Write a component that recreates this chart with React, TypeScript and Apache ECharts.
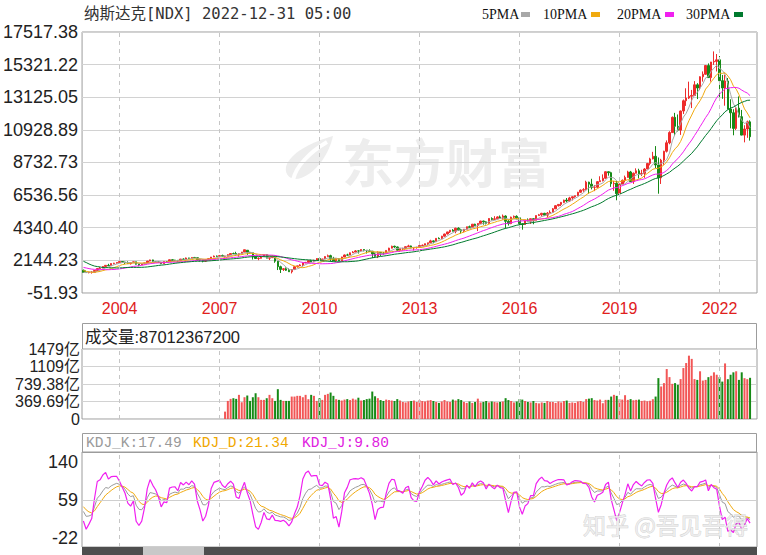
import React, { useEffect, useRef } from 'react';
import * as echarts from 'echarts';

// ---------- categories (monthly, Dec 2002 .. Dec 2022 + 2 empty slots) ----------
const categories: string[] = [];
for (let i = 0; i < 243; i++) {
  const m = 11 + i;
  const y = 2002 + Math.floor(m / 12);
  const mm = (m % 12) + 1;
  categories.push(`${y}-${String(mm).padStart(2, '0')}`);
}
const yearMarks = ['2004-01', '2007-01', '2010-01', '2013-01', '2016-01', '2019-01', '2022-01'];

// ---------- prices ----------
const priorCloses = [
  3766.99, 4206.35, 3672.82, 3369.63, 2597.93, 2470.52,
  2772.73, 2151.83, 1840.26, 2116.24, 2110.49, 2160.54, 2027.13, 1805.43, 1498.8, 1690.2, 1930.58, 1950.4,
  1934.03, 1731.49, 1845.35, 1688.23, 1615.73, 1463.21, 1328.26, 1314.85, 1172.06, 1329.75, 1478.78,
];

const opens = [
  1479,
  1336, 1321, 1338, 1341, 1464, 1596, 1623, 1735, 1810, 1787, 1932, 1960,
  2003, 2066, 2030, 1994, 1920, 1987, 2048, 1887, 1838, 1897, 1975, 2097,
  2175, 2062, 2052, 1999, 1922, 2068, 2057, 2185, 2152, 2152, 2120, 2233,
  2205, 2306, 2281, 2340, 2323, 2179, 2172, 2091, 2184, 2258, 2367, 2432,
  2415, 2464, 2416, 2422, 2525, 2605, 2603, 2546, 2596, 2702, 2825, 2661,
  2653, 2390, 2271, 2279, 2413, 2523, 2293, 2326, 2368, 2092, 1721, 1536,
  1577, 1476, 1378, 1529, 1717, 1774, 1835, 1979, 2009, 2122, 2045, 2145,
  2269, 2147, 2238, 2398, 2461, 2257, 2109, 2255, 2114, 2369, 2507, 2498,
  2653, 2700, 2782, 2781, 2874, 2835, 2774, 2756, 2579, 2415, 2684, 2620,
  2605, 2814, 2967, 3092, 3046, 2827, 2935, 2940, 3067, 3116, 2977, 3010,
  3020, 3142, 3160, 3268, 3329, 3456, 3403, 3626, 3590, 3771, 3920, 4060,
  4177, 4104, 4308, 4199, 4115, 4243, 4408, 4370, 4580, 4493, 4631, 4792,
  4736, 4635, 4964, 4901, 4941, 5070, 4987, 5128, 4777, 4620, 5054, 5109,
  5007, 4614, 4558, 4870, 4775, 4948, 4843, 5162, 5213, 5312, 5189, 5324,
  5383, 5615, 5825, 5912, 6048, 6199, 6140, 6348, 6429, 6496, 6728, 6874,
  6903, 7411, 7273, 7063, 7066, 7442, 7510, 7672, 8110, 8046, 7306, 7331,
  6635, 7282, 7533, 7729, 8095, 7453, 8006, 8175, 7963, 7999, 8292, 8665,
  8973, 9151, 8567, 7700, 8890, 9490, 10059, 10745, 11775, 11168, 10912, 12199,
  12888, 13071, 13192, 13247, 13963, 13749, 14504, 14673, 15259, 14449, 15498, 15538,
  15645, 14240, 13751, 14221, 12335, 12081, 11029, 12391, 11816, 10576, 10988, 11468,
];

const highs = [
  1521,
  1467, 1373, 1426, 1480, 1601, 1702, 1754, 1812, 1913, 1941, 1976, 2009,
  2153, 2100, 2054, 2080, 2000, 2061, 2050, 1892, 1930, 1978, 2106, 2191,
  2191, 2096, 2084, 2007, 2085, 2104, 2197, 2219, 2179, 2154, 2238, 2278,
  2333, 2316, 2346, 2375, 2354, 2200, 2185, 2190, 2270, 2375, 2469, 2470,
  2509, 2531, 2458, 2559, 2626, 2667, 2724, 2620, 2714, 2861, 2830, 2724,
  2661, 2420, 2347, 2425, 2551, 2550, 2340, 2473, 2395, 2104, 1786, 1623,
  1667, 1602, 1552, 1754, 1775, 1884, 1984, 2040, 2150, 2190, 2188, 2295,
  2326, 2245, 2424, 2535, 2524, 2381, 2303, 2300, 2390, 2541, 2592, 2672,
  2766, 2840, 2800, 2888, 2887, 2840, 2887, 2780, 2673, 2754, 2709, 2713,
  2815, 2993, 3134, 3134, 3076, 2940, 2994, 3085, 3197, 3139, 3020, 3060,
  3154, 3213, 3270, 3330, 3532, 3487, 3626, 3694, 3798, 3941, 4069, 4177,
  4246, 4342, 4371, 4273, 4247, 4410, 4485, 4580, 4610, 4641, 4810, 4815,
  4777, 4975, 5042, 5120, 5111, 5164, 5232, 5176, 4893, 5086, 5163, 5176,
  5007, 4633, 4870, 4969, 4958, 4980, 5166, 5272, 5343, 5343, 5400, 5512,
  5670, 5868, 5929, 6075, 6230, 6342, 6423, 6445, 6500, 6759, 6914, 7004,
  7506, 7441, 7637, 7209, 7486, 7806, 7934, 8133, 8133, 8108, 7486, 7487,
  7350, 7591, 7850, 8176, 8165, 8059, 8340, 8311, 8243, 8352, 8705, 9052,
  9451, 9838, 9071, 8980, 9523, 10221, 10839, 11829, 12074, 11965, 12226, 12973,
  13728, 14175, 13620, 14211, 14073, 14535, 14864, 15289, 15404, 15504, 16212, 16034,
  15901, 14628, 14647, 14422, 12988, 12319, 12429, 13181, 12271, 11240, 11553, 11571,
];

const lows = [
  1327,
  1313, 1271, 1253, 1336, 1458, 1580, 1616, 1676, 1780, 1786, 1881, 1921,
  1999, 2003, 1897, 1917, 1864, 1968, 1865, 1750, 1836, 1893, 1975, 2079,
  2034, 2030, 1966, 1890, 1921, 2048, 2052, 2134, 2091, 2025, 2118, 2196,
  2189, 2240, 2260, 2303, 2140, 2065, 2012, 2040, 2150, 2245, 2363, 2395,
  2397, 2400, 2332, 2420, 2504, 2561, 2546, 2386, 2540, 2692, 2514, 2587,
  2202, 2245, 2155, 2266, 2399, 2290, 2167, 2308, 1983, 1493, 1295, 1429,
  1432, 1377, 1265, 1490, 1656, 1770, 1727, 1960, 1979, 2040, 2024, 2145,
  2138, 2100, 2238, 2395, 2061, 2105, 2061, 2100, 2113, 2367, 2474, 2498,
  2651, 2700, 2603, 2735, 2753, 2606, 2739, 2298, 2393, 2298, 2441, 2519,
  2600, 2803, 2949, 2987, 2786, 2726, 2813, 2920, 3039, 2964, 2810, 2930,
  3020, 3105, 3154, 3154, 3300, 3295, 3400, 3587, 3588, 3740, 3886, 3984,
  4094, 3968, 4135, 3947, 4035, 4221, 4351, 4322, 4466, 4117, 4624, 4547,
  4563, 4607, 4837, 4857, 4919, 4987, 4889, 4292, 4487, 4580, 4996, 4899,
  4313, 4210, 4534, 4770, 4596, 4575, 4842, 5154, 5100, 5176, 5034, 5322,
  5380, 5605, 5769, 5805, 5997, 6045, 6090, 6177, 6362, 6480, 6690, 6760,
  6900, 6630, 6923, 6805, 7015, 7440, 7460, 7640, 7845, 7093, 6830, 6190,
  6457, 7273, 7390, 7720, 7443, 7292, 8000, 7662, 7819, 7700, 8291, 8540,
  8944, 8355, 6632, 7288, 8575, 9404, 9960, 10745, 10520, 10822, 10592, 12000,
  12543, 13004, 12397, 13247, 13003, 13601, 14178, 14630, 14437, 14181, 15302, 14861,
  13095, 13021, 12555, 12312, 11035, 10565, 10923, 11764, 10565, 10089, 10394, 10207,
];

const closes = [
  1335.51,
  1320.91, 1337.52, 1341.17, 1464.31, 1595.91, 1622.8, 1735.02, 1810.45, 1786.94, 1932.21, 1960.26, 2003.37,
  2066.15, 2029.82, 1994.22, 1920.15, 1986.74, 2047.79, 1887.36, 1838.1, 1896.84, 1974.99, 2096.81, 2175.44,
  2062.41, 2051.72, 1999.23, 1921.65, 2068.22, 2056.96, 2184.83, 2152.09, 2151.69, 2120.3, 2232.82, 2205.32,
  2305.82, 2281.39, 2339.79, 2322.57, 2178.88, 2172.09, 2091.47, 2183.75, 2258.43, 2366.71, 2431.77, 2415.29,
  2463.93, 2416.15, 2421.64, 2525.09, 2604.52, 2603.23, 2546.27, 2596.36, 2701.5, 2859.12, 2660.96, 2652.28,
  2389.86, 2271.48, 2279.1, 2412.8, 2522.66, 2292.98, 2325.55, 2367.52, 2091.88, 1720.95, 1535.57, 1577.03,
  1476.42, 1377.84, 1528.59, 1717.3, 1774.33, 1835.04, 1978.5, 2009.06, 2122.42, 2045.11, 2144.6, 2269.15,
  2147.35, 2238.26, 2397.96, 2461.19, 2257.04, 2109.24, 2254.7, 2114.03, 2368.62, 2507.41, 2498.23, 2652.87,
  2700.08, 2782.27, 2781.07, 2873.54, 2835.3, 2773.52, 2756.38, 2579.46, 2415.4, 2684.41, 2620.34, 2605.15,
  2813.84, 2966.89, 3091.57, 3046.36, 2827.34, 2935.05, 2939.52, 3066.96, 3116.23, 2977.23, 3010.24, 3019.51,
  3142.13, 3160.19, 3267.52, 3328.79, 3455.91, 3403.25, 3626.37, 3589.87, 3771.48, 3919.71, 4059.89, 4176.59,
  4103.88, 4308.12, 4198.99, 4114.56, 4242.62, 4408.18, 4369.77, 4580.27, 4493.39, 4630.74, 4791.63, 4736.05,
  4635.24, 4963.53, 4900.88, 4941.42, 5070.03, 4986.87, 5128.28, 4776.51, 4620.16, 5053.75, 5108.67, 5007.41,
  4613.95, 4557.95, 4869.85, 4775.36, 4948.05, 4842.67, 5162.13, 5213.22, 5312.0, 5189.14, 5323.68, 5383.12,
  5614.79, 5825.44, 5911.74, 6047.61, 6198.52, 6140.42, 6348.12, 6428.66, 6495.96, 6727.67, 6873.97, 6903.39,
  7411.48, 7273.01, 7063.45, 7066.27, 7442.12, 7510.3, 7671.79, 8109.54, 8046.35, 7305.9, 7330.54, 6635.28,
  7281.74, 7532.53, 7729.32, 8095.39, 7453.15, 8006.24, 8175.42, 7962.88, 7999.34, 8292.36, 8665.47, 8972.6,
  9150.94, 8567.37, 7700.1, 8889.55, 9489.87, 10058.77, 10745.27, 11775.46, 11167.51, 10911.59, 12198.74, 12888.28,
  13070.69, 13192.35, 13246.87, 13962.68, 13748.74, 14503.95, 14672.68, 15259.24, 14448.58, 15498.39, 15537.69, 15644.97,
  14239.88, 13751.4, 14220.52, 12334.64, 12081.39, 11028.74, 12390.69, 11816.2, 10575.62, 10988.15, 11468.0, 10466.48,
];

// ---------- volume (亿), from 2007-03 ----------
const volumeStartIndex = 51;
const volumesYi = [
  156, 382, 425, 439, 425, 510, 354, 460, 496, 382,
  460, 545, 460, 404, 404, 439, 510, 439, 382, 630, 404, 382,
  382, 382, 474, 474, 489, 489, 460, 510, 418, 510, 489, 382,
  439, 404, 510, 531, 559, 489, 418, 404, 390, 410, 420, 400,
  430, 410, 450, 390, 400, 420, 430, 580, 480, 440, 400, 380,
  410, 400, 390, 380, 420, 390, 360, 350, 370, 380, 390, 360,
  400, 380, 370, 390, 400, 380, 360, 340, 370, 400, 370, 360,
  410, 390, 420, 400, 360, 340, 370, 340, 360, 430, 350, 360,
  380, 350, 370, 360, 350, 360, 370, 440, 400, 380, 350, 370,
  420, 410, 380, 360, 350, 380, 340, 330, 350, 340, 380, 360,
  360, 340, 370, 350, 380, 390, 340, 350, 340, 370, 380, 360,
  420, 430, 440, 400, 390, 410, 333, 404, 404, 474, 510, 489,
  418, 410, 503, 404, 420, 396, 404, 410, 382, 390, 375, 385,
  418, 474, 864, 687, 758, 1055, 885, 743, 758, 722, 843, 1076,
  1182, 1338, 1270, 843, 826, 1008, 812, 826, 884, 913, 986, 935,
  884, 790, 1174, 841, 935, 986, 1008, 826, 986, 863, 841, 870.12,
];

// ---------- axis tick labels ----------
const priceTickLabels = ['-51.93', '2144.23', '4340.40', '6536.56', '8732.73', '10928.89', '13125.05', '15321.22', '17517.38'];
const volTickValues = [0, 369.69e8, 739.38e8, 1109.07e8, 1478.76e8];
const volTickLabels = ['0', '369.69亿', '739.38亿', '1109亿', '1479亿'];
const kdjTickValues = [-22, 59, 140];

const maPeriods = [5, 10, 20, 30];
const maNames = ['5PMA', '10PMA', '20PMA', '30PMA'];
const maColors = ['#a8a8a8', '#f0aa10', '#f020f0', '#007a2e'];

const RED = '#ee2c2c';
const GREEN = '#168a16';

echarts.graphic.registerShape(
  'emLogo',
  echarts.graphic.extendPath('M50 0 C36 4 14 12 5 26 C-1 36 6 46 18 42 C34 36 46 18 50 0 Z', {})
);

function buildOption() {
  const n = closes.length;
  const allCloses = priorCloses.concat(closes);
  const off = priorCloses.length;
  const maSeries = maPeriods.map((p) => {
    const out: (number | string)[] = [];
    for (let i = 0; i < n; i++) {
      const j = i + off;
      if (j - p + 1 < 0) { out.push('-'); continue; }
      let s = 0;
      for (let k = j - p + 1; k <= j; k++) s += allCloses[k];
      out.push(+(s / p).toFixed(2));
    }
    return out;
  });

  const kArr: number[] = [], dArr: number[] = [], jArr: number[] = [];
  let K = 50, D = 50;
  for (let i = 0; i < n; i++) {
    let hh = -Infinity, ll = Infinity;
    for (let k = Math.max(0, i - 8); k <= i; k++) {
      hh = Math.max(hh, highs[k]);
      ll = Math.min(ll, lows[k]);
    }
    const rsv = hh === ll ? 50 : ((closes[i] - ll) / (hh - ll)) * 100;
    K = (2 * K + rsv) / 3;
    D = (2 * D + K) / 3;
    kArr.push(+K.toFixed(2));
    dArr.push(+D.toFixed(2));
    jArr.push(+(3 * K - 2 * D).toFixed(2));
  }

  const candleData = closes.map((c, i) => [opens[i], c, lows[i], highs[i]]);
  const volData = closes.map((c, i) => {
    const vi = i - volumeStartIndex;
    if (vi < 0) return '-';
    return {
      value: volumesYi[vi] * 1e8,
      itemStyle: { color: c >= opens[i] ? '#f25656' : GREEN },
    };
  });

  const priceTickValues = priceTickLabels.map(parseFloat);
  const dashMarks = {
    silent: true,
    symbol: ['none', 'none'],
    label: { show: false },
    lineStyle: { color: '#c6c6c6', type: [4, 4], width: 1 },
    data: yearMarks.map((m) => ({ xAxis: m })),
  };

  const border = '#9c9c9c';
  const labelFont = 'Liberation Sans';

  const legendItems: any[] = [];
  const legendX = [482, 543, 617, 686];
  const swatchX = [521, 591, 665, 734];
  maNames.forEach((nm, i) => {
    legendItems.push({
      type: 'text', x: legendX[i], y: 14,
      style: { text: nm, fill: '#111', font: '14px "Liberation Serif"', verticalAlign: 'middle' },
    });
    legendItems.push({
      type: 'rect', shape: { x: swatchX[i], y: 12, width: 9, height: 5 },
      style: { fill: maColors[i] },
    });
  });

  return {
    animation: false,
    backgroundColor: '#ffffff',
    grid: [
      { left: 82, top: 32, width: 675, height: 261, show: true, borderColor: border, borderWidth: 1 },
      { left: 82, top: 349, width: 675, height: 70, show: true, borderColor: border, borderWidth: 1 },
      { left: 82, top: 452, width: 675, height: 95, show: true, borderColor: border, borderWidth: 1 },
    ],
    xAxis: [0, 1, 2].map((gi) => ({
      type: 'category',
      gridIndex: gi,
      data: categories,
      boundaryGap: true,
      axisLine: { show: false },
      axisTick: { show: false },
      splitLine: { show: false },
      axisLabel: gi === 0
        ? {
            show: true,
            interval: (_idx: number, val: string) => yearMarks.indexOf(val) >= 0,
            formatter: (v: string) => v.slice(0, 4),
            color: '#e0201c',
            fontSize: 16,
            fontFamily: labelFont,
            margin: 7,
          }
        : { show: false },
    })),
    yAxis: [
      {
        type: 'value', gridIndex: 0, min: -51.93, max: 17517.38, scale: false,
        axisLine: { show: false },
        axisTick: { show: false, customValues: priceTickValues },
        axisLabel: {
          customValues: priceTickValues,
          formatter: (v: number) => {
            const idx = priceTickValues.findIndex((t) => Math.abs(t - v) < 0.01);
            return idx >= 0 ? priceTickLabels[idx] : '';
          },
          fontSize: 18, color: '#222', fontFamily: labelFont, margin: 4,
        },
        splitLine: { show: true, lineStyle: { color: '#d2d2d2', width: 1 } },
      },
      {
        type: 'value', gridIndex: 1, min: 0, max: 1478.76e8,
        axisLine: { show: false },
        axisTick: { show: false, customValues: volTickValues },
        axisLabel: {
          customValues: volTickValues,
          formatter: (v: number) => {
            const idx = volTickValues.findIndex((t) => Math.abs(t - v) < 1e6);
            return idx >= 0 ? volTickLabels[idx] : '';
          },
          fontSize: 16, color: '#222', fontFamily: `${labelFont}, "Noto Sans CJK SC"`, margin: 2,
          padding: [0, 0, 8, 0],
        },
        splitLine: { show: true, lineStyle: { color: '#d2d2d2', width: 1 } },
      },
      {
        type: 'value', gridIndex: 2, min: -40.4, max: 160.5,
        axisLine: { show: false },
        axisTick: { show: false, customValues: kdjTickValues },
        axisLabel: {
          customValues: kdjTickValues,
          formatter: (v: number) => String(Math.round(v)),
          fontSize: 18, color: '#222', fontFamily: labelFont, margin: 4,
        },
        splitLine: { show: false },
      },
    ],
    series: [
      {
        type: 'candlestick', name: 'K', xAxisIndex: 0, yAxisIndex: 0,
        data: candleData, barWidth: 2,
        itemStyle: { color: RED, color0: GREEN, borderColor: RED, borderColor0: GREEN, borderWidth: 1 },
        markLine: dashMarks,
        z: 2,
      },
      ...maNames.map((nm, i) => ({
        type: 'line', name: nm, xAxisIndex: 0, yAxisIndex: 0,
        data: maSeries[i], showSymbol: false, symbol: 'none',
        lineStyle: { color: maColors[i], width: 1 }, z: 3,
      })),
      {
        type: 'bar', name: '成交量', xAxisIndex: 1, yAxisIndex: 1,
        data: volData, barWidth: 2,
        markLine: dashMarks,
      },
      {
        type: 'line', name: 'KDJ_K', xAxisIndex: 2, yAxisIndex: 2, data: kArr,
        showSymbol: false, symbol: 'none', lineStyle: { color: '#9a9a9a', width: 1 },
        markLine: {
          ...dashMarks,
          data: [
            ...yearMarks.map((m) => ({ xAxis: m })),
            { yAxis: 59, lineStyle: { type: 'solid', color: '#cfcfcf' } },
          ],
        },
      },
      {
        type: 'line', name: 'KDJ_D', xAxisIndex: 2, yAxisIndex: 2, data: dArr,
        showSymbol: false, symbol: 'none', lineStyle: { color: '#f0aa10', width: 1 },
      },
      {
        type: 'line', name: 'KDJ_J', xAxisIndex: 2, yAxisIndex: 2, data: jArr,
        showSymbol: false, symbol: 'none', lineStyle: { color: '#f020f0', width: 1.2 },
      },
    ],
    graphic: [
      // watermark (东方财富)
      { type: 'emLogo', x: 283, y: 136, z: -5, silent: true, style: { fill: '#ededed' } },
      {
        type: 'bezierCurve', z: -4, silent: true,
        shape: { x1: 327, y1: 142, cpx1: 310, cpy1: 152, cpx2: 296, cpy2: 166, x2: 293, y2: 180 },
        style: { stroke: '#ffffff', lineWidth: 4, fill: 'none' },
      },
      {
        type: 'text', x: 342, y: 160, z: -5, silent: true,
        style: { text: '东方财富', fill: '#ededed', font: 'bold 52px "Noto Sans CJK SC"', verticalAlign: 'middle' },
      },
      // title
      {
        type: 'text', x: 84, y: 14,
        style: { text: '纳斯达克[NDX] 2022-12-31 05:00', fill: '#333', font: '15.5px "DejaVu Sans Mono", "Noto Sans CJK SC"', verticalAlign: 'middle' },
      },
      ...legendItems,
      // volume header
      {
        type: 'rect', shape: { x: 82.5, y: 323.5, width: 674, height: 26 },
        style: { fill: 'none', stroke: border, lineWidth: 1 },
      },
      {
        type: 'text', x: 85, y: 337,
        style: { text: '成交量:87012367200', fill: '#222', font: '16.5px "Liberation Sans", "Noto Sans CJK SC"', verticalAlign: 'middle' },
      },
      // KDJ header
      {
        type: 'rect', shape: { x: 82.5, y: 433.5, width: 674, height: 19 },
        style: { fill: 'none', stroke: border, lineWidth: 1 },
      },
      {
        type: 'text', x: 86, y: 443,
        style: { text: 'KDJ_K:17.49', fill: '#9a9a9a', font: '14.5px "Liberation Mono"', verticalAlign: 'middle' },
      },
      {
        type: 'text', x: 193, y: 443,
        style: { text: 'KDJ_D:21.34', fill: '#f0a800', font: '14.5px "Liberation Mono"', verticalAlign: 'middle' },
      },
      {
        type: 'text', x: 302, y: 443,
        style: { text: 'KDJ_J:9.80', fill: '#e020e0', font: '14.5px "Liberation Mono"', verticalAlign: 'middle' },
      },
      // scrollbar
      { type: 'rect', shape: { x: 82, y: 547, width: 675, height: 8 }, style: { fill: '#4e4e4e' } },
      { type: 'rect', shape: { x: 143, y: 547, width: 61, height: 8 }, style: { fill: '#c8c8c8' } },
      // 知乎 watermark
      {
        type: 'text', x: 583, y: 524, z: 100, silent: true,
        style: {
          text: '知乎 @吾见吾得', fill: 'rgba(238,238,238,0.85)', stroke: 'rgba(160,160,160,0.5)', lineWidth: 0.8,
          font: '23px "Noto Sans CJK SC"', verticalAlign: 'middle',
        },
      },
    ],
  };
}

export default function App() {
  const ref = useRef<HTMLDivElement>(null);
  useEffect(() => {
    if (!ref.current) return;
    const chart = echarts.init(ref.current, null, { renderer: 'svg' });
    chart.setOption(buildOption() as any);
    return () => chart.dispose();
  }, []);
  return (
    <div
      ref={ref}
      style={{ position: 'fixed', left: 0, top: 0, width: 766, height: 555, background: '#fff' }}
    />
  );
}
